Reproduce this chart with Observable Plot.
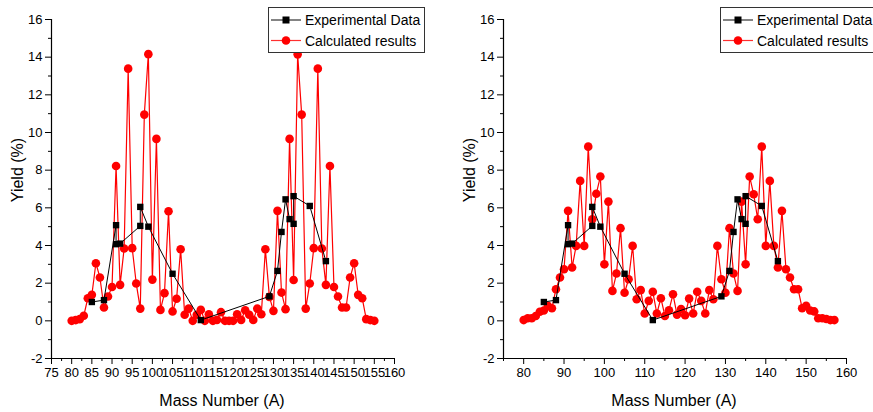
<!DOCTYPE html>
<html>
<head>
<meta charset="utf-8">
<script src="https://cdn.jsdelivr.net/npm/d3@7"></script>
<script src="https://cdn.jsdelivr.net/npm/@observablehq/plot@0.6"></script>
<style>
  html, body { margin: 0; padding: 0; background: #fff; }
  #wrap { position: relative; width: 873px; height: 412px; overflow: hidden; font-family: "Liberation Sans", Arial, sans-serif; }
  .panel { position: absolute; top: 0; }
  .title { position: absolute; font-size: 16px; color: #000; white-space: nowrap; }
  .ytitle { transform: translate(-50%, -50%) rotate(-90deg); }
  .xtitle { transform: translate(-50%, -50%); }
  .legend { position: absolute; top: 7px; }
</style>
</head>
<body>
<div id="wrap">
  <div id="left" class="panel" style="left:0px"></div>
  <div id="right" class="panel" style="left:436px"></div>
  <div class="title ytitle" style="left:18px; top:170px">Yield (%)</div>
  <div class="title ytitle" style="left:470px; top:170px">Yield (%)</div>
  <div class="title xtitle" style="left:222px; top:401px">Mass Number (A)</div>
  <div class="title xtitle" style="left:674px; top:401px">Mass Number (A)</div>
</div>
<script>
// ---- Data ----
const legendLabels = ["Experimental Data", "Calculated results"];

const expMass  = [85, 88, 91, 91, 92, 97, 97, 99, 105, 112, 129, 131, 132, 133, 134, 135, 135, 139, 143];
const expYield = [1.0, 1.1, 5.08, 4.07, 4.1, 5.04, 6.05, 5.0, 2.5, 0.04, 1.3, 2.65, 4.72, 6.45, 5.4, 5.15, 6.62, 6.1, 3.17];

const calcMassLeft = [80,81,82,83,84,85,86,87,88,89,90,91,92,93,94,95,96,97,98,99,100,101,102,103,104,105,106,107,108,109,110,111,112,113,114,115,116,117,118,119,120,121,122,123,124,125,126,127,128,129,130,131,132,133,134,135,136,137,138,139,140,141,142,143,144,145,146,147,148,149,150,151,152,153,154,155];
const calcYieldLeft = [0.0,0.04,0.09,0.27,1.2,1.38,3.06,2.3,0.71,1.29,1.8,8.22,1.91,3.84,13.39,3.86,1.98,0.65,10.95,14.16,2.19,9.66,0.58,1.47,5.82,0.5,1.17,3.8,0.32,0.65,0.0,0.32,0.58,0.0,0.35,0.0,0.05,0.46,0.0,0.0,0.0,0.35,0.05,0.56,0.32,0.05,0.65,0.35,3.8,1.27,0.53,5.84,1.5,0.62,9.66,2.17,14.15,10.95,0.65,1.98,3.86,13.39,3.84,1.91,8.22,1.8,1.29,0.71,0.71,2.3,3.06,1.38,1.2,0.09,0.04,0.0];

const calcMassRight = [80,81,82,83,84,85,86,87,88,89,90,91,92,93,94,95,96,97,98,99,100,101,102,103,104,105,106,107,108,109,110,111,112,113,114,115,116,117,118,119,120,121,122,123,124,125,126,127,128,129,130,131,132,133,134,135,136,137,138,139,140,141,142,143,144,145,146,147,148,149,150,151,152,153,154,155,156,157];
const calcYieldRight = [0.04,0.14,0.14,0.26,0.48,0.55,0.8,0.67,1.68,2.3,2.74,5.84,2.83,3.98,7.43,3.98,9.25,5.39,6.75,7.66,3.0,6.33,1.59,2.51,4.92,1.49,2.21,3.98,1.15,1.63,0.39,1.06,1.54,0.39,1.2,0.26,0.56,1.41,0.33,0.62,0.3,1.18,0.39,1.54,1.06,0.39,1.63,1.15,3.98,2.21,1.49,4.92,2.51,1.59,6.33,3.0,7.66,6.72,5.39,9.25,3.98,7.43,3.98,2.83,5.84,2.74,2.3,1.68,1.68,0.67,0.8,0.55,0.5,0.14,0.14,0.1,0.04,0.04];

const yTicksMajor = [-2,0,2,4,6,8,10,12,14,16];
const yTicksMinor = [-1,1,3,5,7,9,11,13,15];
const xTicksLeftMajor = [75,80,85,90,95,100,105,110,115,120,125,130,135,140,145,150,155,160];
const xTicksLeftMinor = [77.5,82.5,87.5,92.5,97.5,102.5,107.5,112.5,117.5,122.5,127.5,132.5,137.5,142.5,147.5,152.5,157.5];
const xTicksRightMajor = [80,90,100,110,120,130,140,150,160];
const xTicksRightMinor = [75,85,95,105,115,125,135,145,155];

// ---- Build ----
const expData = expMass.map((m, i) => ({mass: m, yield: expYield[i]}));
const calcLeft = calcMassLeft.map((m, i) => ({mass: m, yield: calcYieldLeft[i]}));
const calcRight = calcMassRight.map((m, i) => ({mass: m, yield: calcYieldRight[i]}));

function panel(calc, xMajor, xMinor, width, marginLeft, marginRight) {
  return Plot.plot({
    width, height: 412,
    marginLeft, marginRight, marginTop: 19, marginBottom: 54,
    x: {domain: [75, 160]},
    y: {domain: [-2, 16]},
    style: {fontFamily: "'Liberation Sans', Arial, sans-serif", fontSize: "13px", color: "#000", background: "transparent", overflow: "visible"},
    marks: [
      Plot.axisY({ticks: yTicksMajor, tickSize: 6, tickPadding: 3, tickFormat: d => String(d), label: null, fontSize: 13}),
      Plot.axisY({ticks: yTicksMinor, tickSize: 3, tickFormat: () => "", label: null}),
      Plot.axisX({ticks: xMajor, tickSize: 6, tickPadding: 3, tickFormat: d => String(d), label: null, fontSize: 13}),
      Plot.axisX({ticks: xMinor, tickSize: 3, tickFormat: () => "", label: null}),
      Plot.ruleX([75], {stroke: "#000", strokeWidth: 1.2}),
      Plot.ruleY([-2], {stroke: "#000", strokeWidth: 1.2}),
      Plot.line(calc, {x: "mass", y: "yield", stroke: "#ff0000", strokeWidth: 1.2}),
      Plot.dot(calc, {x: "mass", y: "yield", fill: "#ff0000", r: 4.3, symbol: "circle"}),
      Plot.line(expData, {x: "mass", y: "yield", stroke: "#000", strokeWidth: 1}),
      Plot.dot(expData, {x: "mass", y: "yield", fill: "#000", r: 3.6, symbol: "square"})
    ]
  });
}

document.getElementById("left").appendChild(panel(calcLeft, xTicksLeftMajor, xTicksLeftMinor, 436, 51, 42));
document.getElementById("right").appendChild(panel(calcRight, xTicksRightMajor, xTicksRightMinor, 437, 67, 27));

// ---- Legends ----
function legend(left) {
  const ns = "http://www.w3.org/2000/svg";
  const svg = document.createElementNS(ns, "svg");
  svg.setAttribute("width", 160); svg.setAttribute("height", 47);
  svg.setAttribute("class", "legend");
  svg.style.left = left + "px";
  svg.innerHTML = `
    <rect x="0.5" y="0.5" width="156" height="45" fill="#fff" stroke="#333" stroke-width="1"/>
    <line x1="3" x2="33" y1="13" y2="13" stroke="#333" stroke-width="1.2"/>
    <rect x="14.5" y="9.5" width="7" height="7" fill="#000"/>
    <line x1="3" x2="33" y1="33.5" y2="33.5" stroke="#ff3030" stroke-width="1.2"/>
    <circle cx="18" cy="33.5" r="4.3" fill="#ff0000"/>
    <text x="37" y="18" font-size="14" font-family="'Liberation Sans', Arial, sans-serif" fill="#000">${legendLabels[0]}</text>
    <text x="37" y="38.5" font-size="14" font-family="'Liberation Sans', Arial, sans-serif" fill="#000">${legendLabels[1]}</text>`;
  document.getElementById("wrap").appendChild(svg);
}
legend(268);
legend(720);
</script>
</body>
</html>
